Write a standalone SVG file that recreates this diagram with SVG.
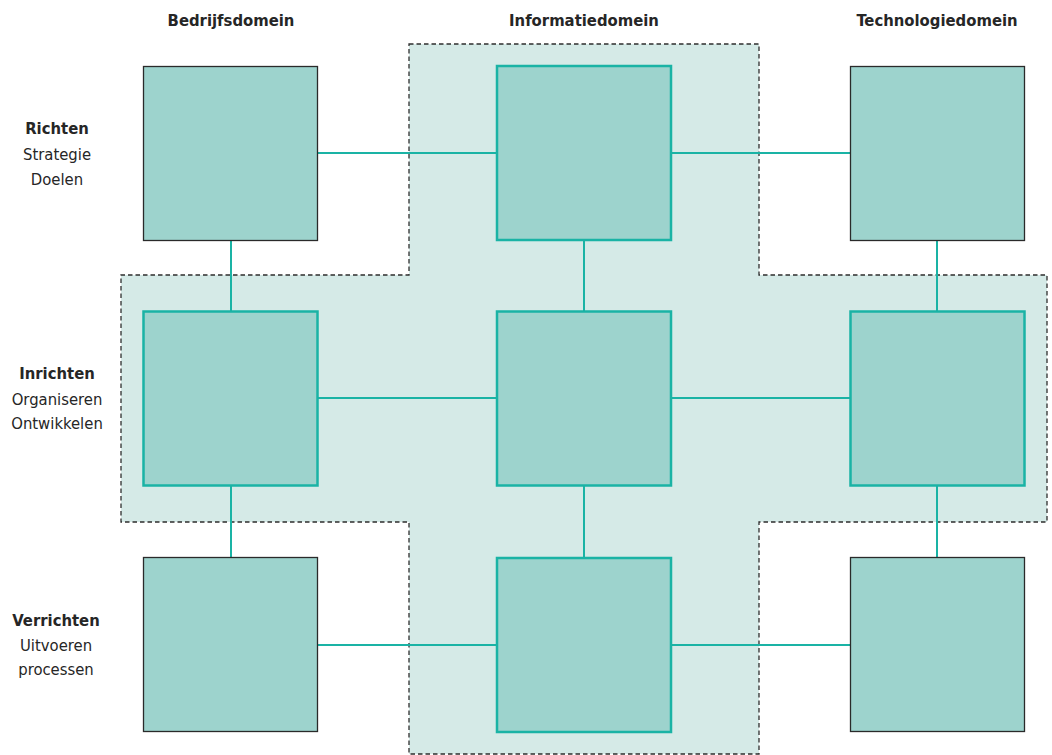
<svg xmlns="http://www.w3.org/2000/svg" width="1052" height="755" viewBox="0 0 1052 755">
  <style>
    .zone { fill: #d5eae7; stroke: #2e2e2e; stroke-width: 1.3; stroke-dasharray: 4.5 3; }
    .box { fill: #9dd3cd; }
    .box.plain { stroke: #2a2a2a; stroke-width: 1.3; }
    .box.focus { stroke: #1ab3a5; stroke-width: 2.5; }
    .link { stroke: #1ab3a5; stroke-width: 2; fill: none; }
    text { font-family: "DejaVu Sans", "Liberation Sans", sans-serif; font-stretch: condensed; fill: #262626; font-size: 16.5px; text-anchor: middle; }
    .head { font-weight: bold; }
  </style>

  <!-- information domain / structuring layer zone -->
  <path class="zone" d="M409,44 H759 V275 H1047 V522 H759 V754 H409 V522 H121 V275 H409 Z"/>

  <!-- connectors -->
  <g id="connectors">
    <line class="link" x1="318" y1="153" x2="497" y2="153"/>
    <line class="link" x1="671" y1="153" x2="850" y2="153"/>
    <line class="link" x1="318" y1="398" x2="497" y2="398"/>
    <line class="link" x1="671" y1="398" x2="850" y2="398"/>
    <line class="link" x1="318" y1="645" x2="497" y2="645"/>
    <line class="link" x1="671" y1="645" x2="850" y2="645"/>
    <line class="link" x1="231" y1="240" x2="231" y2="311"/>
    <line class="link" x1="231" y1="485" x2="231" y2="557"/>
    <line class="link" x1="584" y1="240" x2="584" y2="311"/>
    <line class="link" x1="584" y1="485" x2="584" y2="558"/>
    <line class="link" x1="937" y1="240" x2="937" y2="311"/>
    <line class="link" x1="937" y1="485" x2="937" y2="557"/>
  </g>

  <!-- nodes -->
  <g id="bedrijf-richten"><rect class="box plain" x="143.5" y="66.5" width="174" height="174"/></g>
  <g id="informatie-richten"><rect class="box focus" x="497" y="66" width="174" height="174"/></g>
  <g id="technologie-richten"><rect class="box plain" x="850.5" y="66.5" width="174" height="174"/></g>

  <g id="bedrijf-inrichten"><rect class="box focus" x="143.5" y="311.5" width="174" height="174"/></g>
  <g id="informatie-inrichten"><rect class="box focus" x="497" y="311.5" width="174" height="174"/></g>
  <g id="technologie-inrichten"><rect class="box focus" x="850.5" y="311.5" width="174" height="174"/></g>

  <g id="bedrijf-verrichten"><rect class="box plain" x="143.5" y="557.5" width="174" height="174"/></g>
  <g id="informatie-verrichten"><rect class="box focus" x="497" y="558" width="174" height="174"/></g>
  <g id="technologie-verrichten"><rect class="box plain" x="850.5" y="557.5" width="174" height="174"/></g>

  <!-- column headings -->
  <g id="col-headings">
    <text class="head" x="231" y="26">Bedrijfsdomein</text>
    <text class="head" x="584" y="26">Informatiedomein</text>
    <text class="head" x="937" y="26">Technologiedomein</text>
  </g>

  <!-- row headings -->
  <g id="row-richten">
    <text class="head" x="57" y="134">Richten</text>
    <text x="57" y="160">Strategie</text>
    <text x="57" y="185">Doelen</text>
  </g>
  <g id="row-inrichten">
    <text class="head" x="57" y="379">Inrichten</text>
    <text x="57" y="405">Organiseren</text>
    <text x="57" y="429">Ontwikkelen</text>
  </g>
  <g id="row-verrichten">
    <text class="head" x="56" y="626">Verrichten</text>
    <text x="56" y="651">Uitvoeren</text>
    <text x="56" y="675">processen</text>
  </g>
</svg>
